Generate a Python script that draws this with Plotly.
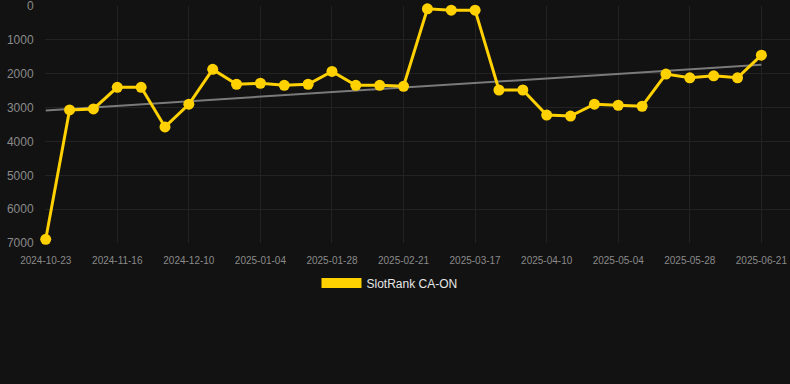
import numpy as np
import plotly.graph_objects as go

dates = ["2024-10-23", "2024-10-31", "2024-11-08", "2024-11-16", "2024-11-24", "2024-12-02",
         "2024-12-10", "2024-12-18", "2024-12-26", "2025-01-04", "2025-01-12", "2025-01-20",
         "2025-01-28", "2025-02-05", "2025-02-13", "2025-02-21", "2025-03-01", "2025-03-09",
         "2025-03-17", "2025-03-25", "2025-04-02", "2025-04-10", "2025-04-18", "2025-04-26",
         "2025-05-04", "2025-05-12", "2025-05-20", "2025-05-28", "2025-06-05", "2025-06-13",
         "2025-06-21"]
rank = [6890, 3070, 3040, 2400, 2400, 3570, 2900, 1870, 2310, 2280, 2340, 2310,
        1930, 2340, 2340, 2370, 80, 120, 120, 2480, 2480, 3220, 3250, 2900,
        2930, 2960, 2010, 2120, 2060, 2120, 1450]
tick_labels = dates[::3]
y_ticks = [0, 1000, 2000, 3000, 4000, 5000, 6000, 7000]
series_name = "SlotRank CA-ON"

idx = np.arange(len(rank))
slope, intercept = np.polyfit(idx, rank, 1)
trend = slope * idx + intercept

gold = "#FFD100"
bg = "#121212"

fig = go.Figure()
fig.add_trace(go.Scatter(x=dates, y=trend, mode="lines",
                         line=dict(color="#7a7a7a", width=2),
                         showlegend=False, hoverinfo="skip"))
fig.add_trace(go.Scatter(x=dates, y=rank, mode="lines+markers", name=series_name,
                         line=dict(color=gold, width=3),
                         marker=dict(color=gold, size=11),
                         showlegend=False, cliponaxis=False))
fig.add_trace(go.Scatter(x=[None], y=[None], mode="lines", name=series_name,
                         line=dict(color=gold, width=11), showlegend=True))

fig.update_layout(
    width=790, height=384,
    paper_bgcolor=bg, plot_bgcolor=bg,
    margin=dict(l=45, r=0, t=6, b=141),
    font=dict(family="Liberation Sans, Arial, sans-serif", color="#8a8a8a"),
    showlegend=True,
    legend=dict(orientation="h", x=0.4624, xanchor="center", y=-0.108, yanchor="top",
                font=dict(size=12, color="#e6e6e6"), bgcolor="rgba(0,0,0,0)",
                itemwidth=40),
    xaxis=dict(type="category", categoryorder="array", categoryarray=dates,
               range=[-0.03, 31.2],
               tickmode="array", tickvals=tick_labels, ticktext=tick_labels,
               tickfont=dict(size=10, color="#8a8a8a"),
               showgrid=True, gridcolor="#222222", gridwidth=1,
               zeroline=False, showline=False,
               ticks="outside", ticklen=8, tickcolor="rgba(0,0,0,0)"),
    yaxis=dict(range=[7000, -2], tickmode="array", tickvals=y_ticks,
               tickfont=dict(size=12, color="#8a8a8a"),
               ticklabeloverflow="allow",
               showgrid=True, gridcolor="#232323", gridwidth=1,
               zeroline=False, showline=False,
               ticks="outside", ticklen=8, tickcolor="rgba(0,0,0,0)"),
)

fig.write_html("out.html", config={"displayModeBar": False},
               post_script="document.body.style.margin='0';document.body.style.background='#121212';")
